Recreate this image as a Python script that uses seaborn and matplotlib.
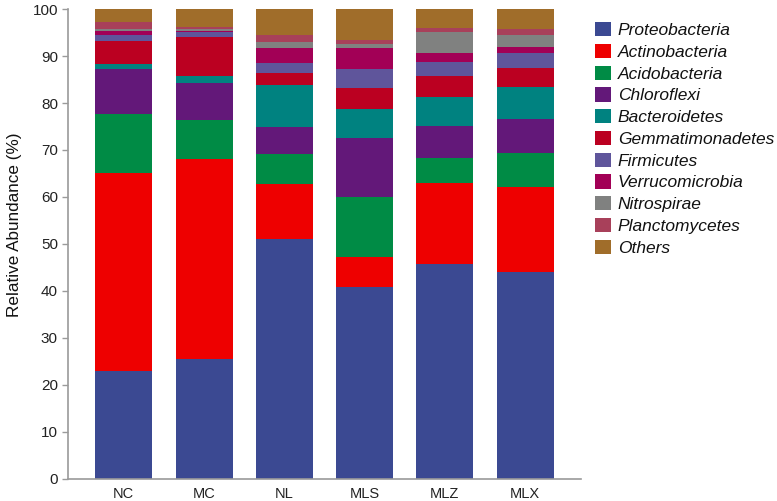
import numpy as np
import pandas as pd
import seaborn as sns
import matplotlib.pyplot as plt
from matplotlib.patches import Patch

# Sites (x categories)
sites = ['NC', 'MC', 'NL', 'MLS', 'MLZ', 'MLX']

# Phyla, bottom to top of each stack
phyla = ['Proteobacteria', 'Actinobacteria', 'Acidobacteria', 'Chloroflexi',
         'Bacteroidetes', 'Gemmatimonadetes', 'Firmicutes', 'Verrucomicrobia',
         'Nitrospirae', 'Planctomycetes', 'Others']

colors = ['#3B4992', '#EE0000', '#008B45', '#631879', '#008280', '#BB0021',
          '#5F559B', '#A20056', '#808180', '#A8405A', '#A06D2A']

# Relative abundance (%) per site
proteobacteria   = [23.0, 25.5, 51.0, 40.8, 45.7, 44.1]
actinobacteria   = [42.0, 42.5, 11.8,  6.4, 17.3, 18.0]
acidobacteria    = [12.7,  8.4,  6.4, 12.8,  5.3,  7.2]
chloroflexi      = [ 9.5,  7.8,  5.6, 12.5,  6.8,  7.4]
bacteroidetes    = [ 1.0,  1.5,  9.0,  6.3,  6.2,  6.8]
gemmatimonadetes = [ 5.0,  8.3,  2.5,  4.4,  4.4,  4.0]
firmicutes       = [ 1.3,  1.1,  2.3,  4.0,  3.1,  3.2]
verrucomicrobia  = [ 0.8,  0.2,  3.0,  4.4,  1.8,  1.3]
nitrospirae      = [ 0.4,  0.4,  1.3,  1.0,  4.5,  2.5]
planctomycetes   = [ 1.5,  0.5,  1.5,  0.8,  0.9,  1.2]
others           = [ 2.8,  3.8,  5.6,  6.6,  4.0,  4.3]

values = [proteobacteria, actinobacteria, acidobacteria, chloroflexi,
          bacteroidetes, gemmatimonadetes, firmicutes, verrucomicrobia,
          nitrospirae, planctomycetes, others]

df = pd.DataFrame(np.array(values).T, columns=phyla)
df.insert(0, 'site', sites)
cum = df[phyla].cumsum(axis=1)
cum['site'] = sites

sns.set_style('white')
plt.rcParams['font.family'] = ['Liberation Sans', 'DejaVu Sans']

fig = plt.figure(figsize=(7.77, 5.01), dpi=100)
ax = fig.add_axes([0.087, 0.044, 0.661, 0.938])

# draw cumulative totals from the top layer down so each layer shows its own share
for name, col in zip(phyla[::-1], colors[::-1]):
    sns.barplot(data=cum, x='site', y=name, order=sites, color=col,
                width=0.71, saturation=1, ax=ax, linewidth=0)

ax.set_xlim(-0.7, 5.7)
ax.set_ylim(0, 100)
ax.set_yticks(range(0, 101, 10))
ax.set_xlabel('')
ax.set_ylabel('Relative Abundance (%)', fontsize=12.3, color='#111111')
ax.yaxis.set_label_coords(-0.088, 0.54)

for s in ['top', 'right']:
    ax.spines[s].set_visible(False)
for s in ['left', 'bottom']:
    ax.spines[s].set_color('#9a9a9a')
    ax.spines[s].set_linewidth(1.2)
ax.tick_params(axis='y', length=4, width=1, color='#9a9a9a', labelsize=11,
               labelcolor='#222222', pad=3, left=True)
ax.tick_params(axis='x', length=0, labelsize=10.5, labelcolor='#222222', pad=6)

handles = [Patch(facecolor=c, edgecolor='none') for c in colors]
leg = fig.legend(handles, phyla, loc='upper left', bbox_to_anchor=(595 / 777, 1 - 22 / 501),
                 frameon=False, borderpad=0, borderaxespad=0, handlelength=0.92,
                 handleheight=0.9, handletextpad=0.4, labelspacing=0.32,
                 prop={'size': 12.5, 'style': 'italic'})
for t in leg.get_texts():
    t.set_color('#111111')

plt.savefig('out.png', dpi=100, facecolor='white')
